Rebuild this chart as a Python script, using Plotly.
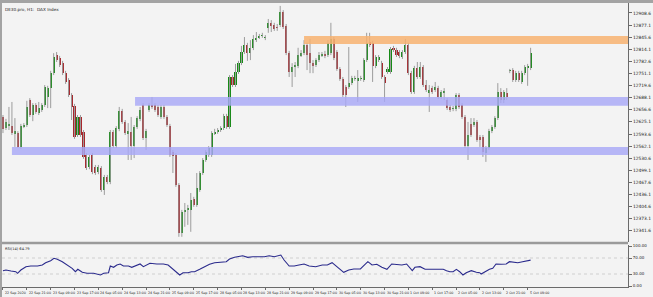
import plotly.graph_objects as go

title_text = "DE30.pro, H1:  DAX Index"
rsi_title = "RSI(14) 64.79"

opens = [12638, 12609, 12614, 12614, 12594, 12596, 12560, 12614, 12617, 12682,
         12643, 12669, 12648, 12656, 12669, 12690, 12713, 12752, 12799, 12791,
         12778, 12752, 12734, 12695, 12667, 12591, 12638, 12599, 12539, 12508,
         12539, 12508, 12495, 12505, 12448, 12482, 12469, 12599, 12562, 12607,
         12653, 12625, 12594, 12599, 12562, 12612, 12633, 12669, 12583, 12656,
         12669, 12669, 12664, 12638, 12664, 12638, 12614, 12547, 12539, 12461,
         12336, 12391, 12396, 12396, 12424, 12409, 12448, 12492, 12526, 12539,
         12539, 12596, 12599, 12604, 12609, 12640, 12612, 12742, 12721, 12755,
         12778, 12807, 12825, 12804, 12818, 12838, 12846, 12849, 12844, 12870,
         12883, 12877, 12872, 12877, 12911, 12875, 12804, 12755, 12768, 12771,
         12799, 12804, 12825, 12804, 12778, 12773, 12786, 12799, 12802, 12799,
         12804, 12841, 12807, 12763, 12737, 12716, 12716, 12726, 12737, 12734,
         12737, 12734, 12786, 12833, 12831, 12771, 12786, 12778, 12742, 12755,
         12755, 12818, 12812, 12807, 12794, 12807, 12825, 12752, 12703, 12765,
         12742, 12768, 12721, 12700, 12713, 12708, 12713, 12690, 12700, 12682,
         12664, 12659, 12659, 12695, 12669, 12638, 12562, 12620, 12617, 12625,
         12586, 12586, 12544, 12557, 12601, 12612, 12635, 12703, 12682, 12700,
         12758, 12760, 12734, 12752, 12729, 12752, 12765, 12765]

highs = [12643, 12633, 12664, 12677, 12635, 12601, 12620, 12622, 12680, 12687,
         12674, 12674, 12677, 12674, 12721, 12719, 12758, 12804, 12807, 12797,
         12784, 12758, 12739, 12700, 12672, 12643, 12643, 12604, 12544, 12539,
         12544, 12513, 12513, 12510, 12487, 12487, 12604, 12604, 12614, 12664,
         12659, 12630, 12622, 12638, 12617, 12640, 12664, 12674, 12607, 12674,
         12690, 12674, 12669, 12669, 12669, 12643, 12620, 12552, 12544, 12466,
         12396, 12414, 12409, 12440, 12430, 12492, 12497, 12531, 12552, 12562,
         12601, 12607, 12609, 12614, 12646, 12646, 12747, 12747, 12776, 12784,
         12823, 12846, 12831, 12838, 12851, 12859, 12854, 12857, 12851, 12893,
         12890, 12883, 12880, 12927, 12916, 12880, 12810, 12778, 12781, 12818,
         12812, 12838, 12831, 12841, 12786, 12791, 12807, 12807, 12810, 12838,
         12883, 12846, 12812, 12768, 12742, 12721, 12820, 12745, 12745, 12760,
         12745, 12791, 12857, 12857, 12836, 12799, 12799, 12784, 12747, 12768,
         12820, 12823, 12818, 12812, 12812, 12841, 12831, 12758, 12771, 12781,
         12781, 12773, 12734, 12721, 12719, 12729, 12719, 12708, 12713, 12687,
         12669, 12667, 12700, 12700, 12674, 12643, 12625, 12635, 12635, 12630,
         12591, 12591, 12562, 12607, 12617, 12640, 12726, 12713, 12708, 12713,
         12763, 12765, 12758, 12758, 12758, 12773, 12776, 12818]

lows = [12596, 12604, 12604, 12591, 12560, 12557, 12555, 12609, 12612, 12638,
        12627, 12646, 12643, 12651, 12664, 12661, 12661, 12747, 12781, 12768,
        12747, 12724, 12690, 12630, 12581, 12586, 12586, 12529, 12500, 12502,
        12489, 12487, 12489, 12443, 12435, 12463, 12463, 12557, 12557, 12601,
        12620, 12591, 12526, 12526, 12531, 12607, 12627, 12578, 12552, 12651,
        12659, 12651, 12638, 12633, 12633, 12612, 12534, 12492, 12456, 12326,
        12326, 12352, 12357, 12339, 12404, 12404, 12443, 12487, 12521, 12534,
        12534, 12591, 12594, 12599, 12604, 12607, 12607, 12716, 12716, 12750,
        12773, 12802, 12784, 12786, 12812, 12833, 12841, 12844, 12838, 12857,
        12859, 12862, 12862, 12872, 12867, 12799, 12742, 12716, 12742, 12765,
        12794, 12799, 12760, 12752, 12752, 12768, 12781, 12794, 12791, 12794,
        12799, 12786, 12758, 12732, 12690, 12664, 12711, 12721, 12732, 12677,
        12732, 12729, 12781, 12820, 12729, 12765, 12781, 12737, 12677, 12750,
        12750, 12807, 12794, 12791, 12789, 12802, 12747, 12698, 12698, 12737,
        12737, 12716, 12703, 12651, 12698, 12703, 12685, 12685, 12682, 12656,
        12651, 12653, 12653, 12659, 12633, 12557, 12526, 12586, 12612, 12573,
        12560, 12534, 12521, 12552, 12596, 12607, 12630, 12674, 12674, 12682,
        12752, 12729, 12729, 12729, 12724, 12747, 12719, 12760]

closes = [12607, 12625, 12620, 12596, 12601, 12560, 12614, 12617, 12664, 12643,
          12669, 12651, 12661, 12669, 12716, 12713, 12752, 12794, 12786, 12773,
          12752, 12729, 12695, 12664, 12586, 12638, 12591, 12534, 12505, 12534,
          12495, 12492, 12508, 12448, 12482, 12469, 12599, 12562, 12609, 12653,
          12625, 12596, 12601, 12562, 12612, 12635, 12656, 12583, 12601, 12669,
          12664, 12656, 12643, 12664, 12638, 12617, 12539, 12536, 12461, 12336,
          12391, 12396, 12401, 12422, 12409, 12453, 12492, 12526, 12547, 12557,
          12596, 12599, 12604, 12609, 12640, 12612, 12742, 12721, 12755, 12778,
          12807, 12825, 12804, 12818, 12841, 12844, 12849, 12851, 12846, 12883,
          12875, 12867, 12870, 12911, 12872, 12804, 12755, 12768, 12773, 12799,
          12804, 12825, 12799, 12778, 12773, 12786, 12799, 12802, 12797, 12831,
          12841, 12791, 12763, 12737, 12695, 12695, 12726, 12739, 12739, 12739,
          12739, 12786, 12831, 12825, 12771, 12794, 12794, 12742, 12726, 12763,
          12815, 12812, 12799, 12797, 12807, 12825, 12752, 12703, 12765, 12742,
          12768, 12721, 12708, 12708, 12703, 12716, 12690, 12703, 12706, 12661,
          12656, 12661, 12695, 12664, 12638, 12562, 12591, 12591, 12625, 12578,
          12578, 12547, 12557, 12601, 12612, 12635, 12703, 12682, 12703, 12690,
          12760, 12734, 12752, 12734, 12752, 12768, 12771, 12804]

x_labels = ["22 Sep 2020", "22 Sep 21:00", "23 Sep 09:00", "23 Sep 17:00", "24 Sep 05:00",
            "24 Sep 13:00", "24 Sep 21:00", "25 Sep 09:00", "25 Sep 17:00", "28 Sep 05:00",
            "28 Sep 13:00", "28 Sep 21:00", "29 Sep 09:00", "29 Sep 17:00", "30 Sep 05:00",
            "30 Sep 13:00", "30 Sep 21:00", "1 Oct 09:00", "1 Oct 17:00", "2 Oct 05:00",
            "2 Oct 13:00", "2 Oct 21:00", "5 Oct 09:00"]
label_step = 8

price_ticks = [12341.6, 12373.1, 12404.6, 12436.1, 12467.6, 12499.1, 12530.6, 12562.1,
               12593.6, 12625.1, 12656.6, 12688.1, 12719.6, 12751.1, 12782.6, 12814.1,
               12845.6, 12877.1, 12908.6]
rsi_ticks = [0, 30, 70, 100]
rsi_levels = [30, 70]

rsi_bar = [0, 1, 2.7, 4.3, 4.9, 6, 7.7, 9.3, 11.6, 13.2, 14.3, 16, 17.1, 18.2, 19.9, 21.6,
           23.2, 24.3, 25.1, 26.6, 28.2, 30.4, 32.7, 33.8, 35.4, 36, 37.1, 38.2, 39.3, 40.4,
           42.1, 43.2, 44.3, 46, 47.1, 48.2, 49.3, 51.6, 53.8, 55.4, 57.1, 58.2, 59.3, 60.4,
           62.1, 63.2, 64.3, 66, 67.7, 69.3, 71, 73.8, 74.9, 76, 77.7, 80.4, 82.1, 83.8, 86,
           87.7, 89.3, 91, 93.2, 94.3, 96, 97.7, 99.3, 101, 102.7, 104.9, 107.1, 108.8, 110.4,
           112.1, 114.3, 116, 117.7, 119.9, 121, 122.4, 123.8, 125.4, 127.1, 128.8, 130.4,
           132.1, 133.8, 135.4, 137.3, 138.2, 139.9, 141.6, 144.3, 146, 146.6, 147.7, 148.8,
           149.9, 151, 152.1, 153.2, 154.3, 155.4, 157.1, 158.8, 159.9, 160.4, 161.6, 163.2,
           164.3, 165.4, 167.1, 168.8, 169.9, 171.6, 172.7, 174.3, 175.4, 177]
rsi_val = [38.3, 40, 37.5, 35.8, 31.7, 40, 48.3, 50, 50, 52.5, 58.3, 63.3, 69.2, 66.7, 60.8,
           52.5, 44.2, 35.8, 41.7, 34.2, 31.7, 31.7, 27.5, 31.7, 33.3, 50, 46.7, 52.5, 55, 50,
           50, 46.7, 50, 55, 48.3, 52.5, 56.7, 55, 55, 52.5, 41.7, 35.8, 27.5, 33.3, 33.3,
           35.8, 35.8, 41.7, 48.3, 54.6, 58.3, 59.2, 60.8, 67.5, 71.7, 75.8, 71.7, 73.3, 73.3,
           73.3, 75.8, 73.3, 77.5, 65, 50, 50, 52.5, 55, 50, 48.3, 52.5, 52.5, 58.3, 46.7,
           34.2, 40, 42.5, 42.5, 50, 60.8, 52.5, 54.2, 46.7, 41.7, 55, 54.2, 52.5, 55, 38.3,
           46.7, 48.3, 41.7, 41.7, 41.7, 40, 41.7, 38.3, 35.8, 35.8, 41.7, 35.8, 27.5, 33.3,
           38.3, 34.2, 33.3, 30, 35.8, 41.7, 44.2, 55, 54.2, 55, 60.8, 59.2, 58.3, 60.8, 62.5,
           64.79]

# zones: start bar, upper price, lower price, colour
zone_start = [101, 44.3, 3]
zone_top = [12849, 12690, 12560]
zone_bottom = [12828, 12667, 12539]
zone_color = ["rgba(247,178,112,0.85)", "rgba(168,168,246,0.82)", "rgba(168,168,246,0.82)"]

UP = "#168a16"
DOWN = "#a8262c"
WICK = "#9c9c9c"
BG = "#f3f3f3"
AXIS = "#6a6a6a"
FONT = "DejaVu Sans"

X_RANGE = [-0.33, 209.67]

n = min(len(opens), len(highs), len(lows), len(closes))
idx = list(range(n))
wx, wy = [], []
for i in range(n):
    wx += [i, i, None]
    wy += [lows[i], highs[i], None]
body_base = [min(opens[i], closes[i]) for i in range(n)]
body_h = [max(abs(closes[i] - opens[i]), 1.4) for i in range(n)]
body_col = [UP if closes[i] >= opens[i] else DOWN for i in range(n)]

fig = go.Figure()
fig.add_trace(go.Scatter(x=wx, y=wy, mode="lines", line=dict(color=WICK, width=1),
                         xaxis="x", yaxis="y", hoverinfo="skip"))
fig.add_trace(go.Bar(x=idx, y=body_h, base=body_base, width=0.7,
                     marker=dict(color=body_col, line=dict(width=0)),
                     xaxis="x", yaxis="y"))
fig.add_trace(go.Scatter(x=rsi_bar, y=rsi_val, mode="lines",
                         line=dict(color="#2a2a8c", width=1.1),
                         xaxis="x2", yaxis="y2"))

shapes = []
for s, t, b, c in zip(zone_start, zone_top, zone_bottom, zone_color):
    shapes.append(dict(type="rect", xref="x", yref="y", x0=s, x1=X_RANGE[1], y0=b, y1=t,
                       fillcolor=c, line=dict(width=0), layer="above"))
for lv in rsi_levels:
    shapes.append(dict(type="line", xref="x2", yref="y2", x0=X_RANGE[0], x1=X_RANGE[1],
                       y0=lv, y1=lv, line=dict(color="#cfcfcf", width=1, dash="dot"),
                       layer="below"))
# window frame pieces
shapes.append(dict(type="rect", xref="paper", yref="paper", x0=-0.01, x1=1.05,
                   y0=1.0, y1=1.02, fillcolor="#a3a3a3", line=dict(width=0)))
shapes.append(dict(type="rect", xref="paper", yref="paper", x0=-0.004, x1=0.0,
                   y0=-0.05, y1=1.02, fillcolor="#a3a3a3", line=dict(width=0)))
# panel separator
shapes.append(dict(type="line", xref="paper", yref="paper", x0=0, x1=1,
                   y0=0.1545, y1=0.1545, line=dict(color="#9a9a9a", width=2.5)))

annotations = [
    dict(text=title_text, xref="paper", yref="paper", x=0.002, y=0.994, xanchor="left",
         yanchor="top", showarrow=False, font=dict(size=4.2, color="#222", family=FONT)),
    dict(text=rsi_title, xref="paper", yref="paper", x=0.002, y=0.148, xanchor="left",
         yanchor="top", showarrow=False, font=dict(size=3.6, color="#222", family=FONT)),
]
for k, lab in enumerate(x_labels):
    annotations.append(dict(text=lab, xref="x2", yref="paper", x=k * label_step, y=-0.006,
                            xanchor="left", yanchor="top", showarrow=False,
                            font=dict(size=3.3, color="#222", family=FONT)))

fig.update_layout(
    width=653, height=297,
    margin=dict(l=2, r=21, t=3, b=10),
    paper_bgcolor=BG, plot_bgcolor=BG,
    showlegend=False, bargap=0,
    shapes=shapes, annotations=annotations,
    xaxis=dict(domain=[0, 1], range=X_RANGE, anchor="y", showticklabels=False,
               showgrid=False, zeroline=False, ticks=""),
    yaxis=dict(domain=[0.1585, 1], range=[12312.5, 12934.6], side="right",
               tickvals=price_ticks, ticktext=["%.1f" % v for v in price_ticks],
               ticks="outside", ticklen=3, tickcolor=AXIS, showline=True,
               linecolor=AXIS, linewidth=1, showgrid=False, zeroline=False,
               tickfont=dict(size=4.4, color="#222", family=FONT)),
    xaxis2=dict(domain=[0, 1], range=X_RANGE, anchor="y2", matches="x",
                tickvals=[k * label_step for k in range(len(x_labels))],
                ticks="outside", ticklen=2, tickcolor=AXIS, showticklabels=False,
                showline=True, linecolor=AXIS, linewidth=1, showgrid=False, zeroline=False),
    yaxis2=dict(domain=[0, 0.1496], range=[-2.5, 103.75], side="right",
                tickvals=rsi_ticks, ticktext=["%.2f" % v for v in rsi_ticks],
                ticks="outside", ticklen=3, tickcolor=AXIS, showline=True,
                linecolor=AXIS, linewidth=1, showgrid=False, zeroline=False,
                tickfont=dict(size=4.0, color="#222", family=FONT)),
)

fig.write_html("out.html")
